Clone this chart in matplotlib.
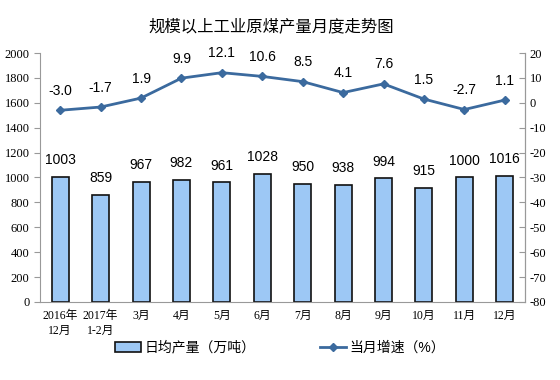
import matplotlib.pyplot as plt
import numpy as np

plt.rcParams['font.family'] = ['Liberation Sans', 'Noto Sans CJK SC']
plt.rcParams['axes.unicode_minus'] = False

months = ["2016年\n12月", "2017年\n1-2月", "3月", "4月", "5月", "6月",
          "7月", "8月", "9月", "10月", "11月", "12月"]
daily_output = [1003, 859, 967, 982, 961, 1028, 950, 938, 994, 915, 1000, 1016]
growth = [-3.0, -1.7, 1.9, 9.9, 12.1, 10.6, 8.5, 4.1, 7.6, 1.5, -2.7, 1.1]
left_ticks = list(range(0, 2001, 200))
right_ticks = list(range(-80, 21, 10))

serif = ['Liberation Serif', 'Noto Sans CJK SC']
x = np.arange(len(months))

fig = plt.figure(figsize=(5.6, 3.8), dpi=100)
ax = fig.add_axes([0.0714, 0.2053, 0.8661, 0.6552])
ax2 = ax.twinx()

ax.bar(x, daily_output, width=0.42, color="#9DC8F5", edgecolor="#111111",
       linewidth=1.2, label="日均产量（万吨）", zorder=2)
for xi, v in zip(x, daily_output):
    ax.annotate(str(v), (xi, v), xytext=(0, 7), textcoords="offset points",
                ha="center", va="bottom", fontsize=10)

ax2.plot(x, growth, color="#3B6A9E", lw=2, marker="D", ms=4.5,
         label="当月增速（%）", zorder=3)
for xi, v in zip(x, growth):
    ax2.annotate(f"{v:.1f}", (xi, v), xytext=(0, 9), textcoords="offset points",
                 ha="center", va="bottom", fontsize=10)

ax.set_xlim(-0.5, len(months) - 0.5)
ax.set_ylim(0, 2000)
ax.set_yticks(left_ticks, [str(t) for t in left_ticks], family=serif, fontsize=9)
ax2.set_ylim(-80, 20)
ax2.set_yticks(right_ticks, [str(t) for t in right_ticks], family=serif, fontsize=9)

ax.set_xticks(x)
ax.set_xticklabels(months, family=serif, fontsize=8.5, linespacing=1.3)
ax.tick_params(axis="x", length=0, pad=6)
ax.tick_params(axis="y", length=4, color="#999999")
ax2.tick_params(axis="y", length=4, color="#999999", direction="in")

for a in (ax, ax2):
    a.spines["top"].set_visible(False)
    for s in ("left", "right", "bottom"):
        a.spines[s].set_color("#999999")
ax2.spines["left"].set_visible(False)
ax2.spines["bottom"].set_visible(False)

fig.text(0.485, 0.93, "规模以上工业原煤产量月度走势图", ha="center", va="center",
         fontsize=11.8)

h1, l1 = ax.get_legend_handles_labels()
h2, l2 = ax2.get_legend_handles_labels()
fig.legend(h1 + h2, l1 + l2, loc="center", bbox_to_anchor=(0.5, 0.085), ncol=2,
           frameon=False, fontsize=10, handlelength=1.9, handletextpad=0.25,
           columnspacing=4.6)

fig.savefig("out.png", dpi=100)
